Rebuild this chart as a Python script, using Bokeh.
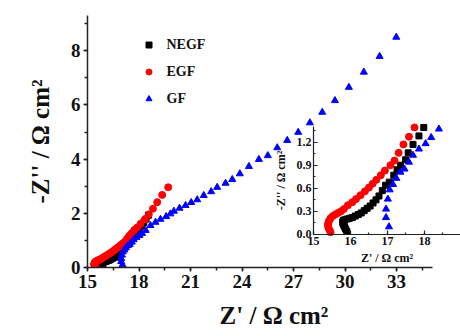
from bokeh.plotting import figure
from bokeh.models import (Range1d, LinearAxis, SingleIntervalTicker,
                          PrintfTickFormatter, Legend, LegendItem)
from bokeh.embed import file_html
from bokeh.resources import INLINE

# ---------------- data ----------------
NEGF_X = [15.90, 15.87, 15.84, 15.82, 15.80, 15.79, 15.80, 15.84, 15.90, 15.97,
          16.05, 16.13, 16.21, 16.29, 16.37, 16.45, 16.53, 16.61, 16.69, 16.77,
          16.86, 16.95, 17.05, 17.17, 17.26, 17.35, 17.49, 17.56, 17.69, 17.85,
          17.98, 18.14, 18.28, 18.41, 18.55]
NEGF_Y = [0.04, 0.07, 0.10, 0.12, 0.14, 0.16, 0.18, 0.19, 0.20, 0.21,
          0.22, 0.24, 0.26, 0.28, 0.31, 0.34, 0.37, 0.41, 0.45, 0.50,
          0.57, 0.64, 0.68, 0.77, 0.84, 0.90, 0.97, 1.06, 1.17, 1.28,
          1.39, 1.53, 1.66, 1.79, 1.93]

EGF_X = [15.46, 15.43, 15.40, 15.39, 15.40, 15.42, 15.46, 15.52, 15.59, 15.66,
         15.74, 15.82, 15.93, 16.05, 16.15, 16.27, 16.39, 16.50, 16.60, 16.70,
         16.82, 16.93, 17.08, 17.19, 17.30, 17.43, 17.58, 17.73, 17.90, 18.09,
         18.34, 18.57, 18.81, 19.06, 19.35, 19.70]
EGF_Y = [0.03, 0.06, 0.09, 0.12, 0.15, 0.18, 0.21, 0.24, 0.26, 0.28,
         0.30, 0.33, 0.38, 0.42, 0.46, 0.51, 0.56, 0.61, 0.66, 0.71,
         0.77, 0.83, 0.90, 0.96, 1.06, 1.17, 1.27, 1.39, 1.48, 1.61,
         1.77, 1.96, 2.17, 2.41, 2.68, 2.96]

GF_X = [17.04, 16.96, 16.96, 17.01, 17.06, 17.15, 17.24, 17.35, 17.46, 17.58,
        17.69, 17.85, 18.03, 18.18, 18.39, 18.67, 18.96, 19.25, 19.58, 19.83,
        20.03, 20.36, 20.71, 21.04, 21.39, 21.77, 22.20, 22.55, 23.04, 23.43,
        23.87, 24.40, 24.98, 25.50, 26.05, 26.63, 27.27, 27.95, 28.67, 29.41,
        30.22, 31.09, 32.01, 32.98]
GF_Y = [0.10, 0.22, 0.33, 0.46, 0.58, 0.65, 0.73, 0.81, 0.85, 0.94,
        1.03, 1.11, 1.18, 1.26, 1.37, 1.55, 1.67, 1.78, 1.88, 1.98,
        2.08, 2.19, 2.29, 2.40, 2.50, 2.66, 2.80, 2.96, 3.11, 3.25,
        3.46, 3.73, 3.99, 4.13, 4.42, 4.69, 4.99, 5.34, 5.73, 6.16,
        6.65, 7.21, 7.79, 8.50]

SERIES = ["NEGF", "EGF", "GF"]
X_LABEL = "Z' / Ω cm²"
Y_LABEL = "-Z'' / Ω cm²"

MAIN_X = (15, 35.1)
MAIN_Y = (0, 9.3)
INSET_X = (15, 19)
INSET_Y = (0, 1.4)

FONT = "Liberation Serif"

# ---------------- figure ----------------
p = figure(width=460, height=336, output_backend="svg", toolbar_location=None,
           x_range=Range1d(15, 36.72), y_range=Range1d(0, 9.3),
           min_border_left=87, min_border_right=0, min_border_top=15,
           min_border_bottom=69, x_axis_type=None, y_axis_type=None)
p.outline_line_color = None
p.background_fill_color = "white"
p.border_fill_color = "white"

# inset coordinate system mapped onto the whole frame
p.extra_x_ranges = {"ix": Range1d(8.892, 18.973)}
p.extra_y_ranges = {"iy": Range1d(-0.4286, 2.844)}


def style(ax, tick_size, label_size, lw):
    ax.axis_line_color = "#222222"
    ax.axis_line_width = lw
    ax.major_tick_line_color = "#222222"
    ax.minor_tick_line_color = "#222222"
    ax.major_tick_line_width = lw
    ax.minor_tick_line_width = lw
    ax.major_label_text_font = FONT
    ax.major_label_text_font_style = "bold"
    ax.major_label_text_font_size = tick_size
    ax.major_label_text_color = "#111111"
    ax.axis_label_text_font = FONT
    ax.axis_label_text_font_style = "bold"
    ax.axis_label_text_font_size = label_size
    ax.axis_label_text_color = "#111111"


# main axes
xax = LinearAxis(ticker=SingleIntervalTicker(interval=3, num_minor_ticks=2),
                 bounds=MAIN_X, axis_label=X_LABEL)
style(xax, "19px", "25px", 1.5)
xax.major_tick_out = 4
xax.major_tick_in = 0
xax.minor_tick_out = 3
xax.minor_tick_in = 0
xax.major_label_standoff = 3
xax.axis_label_standoff = 11
p.add_layout(xax, "below")

yax = LinearAxis(ticker=SingleIntervalTicker(interval=2, num_minor_ticks=2),
                 bounds=MAIN_Y, axis_label=Y_LABEL)
style(yax, "19px", "25px", 1.5)
yax.major_tick_out = 4
yax.major_tick_in = 0
yax.minor_tick_out = 3
yax.minor_tick_in = 0
yax.major_label_standoff = 3
yax.axis_label_standoff = 14
p.add_layout(yax, "left")

# inset axes
ixax = LinearAxis(x_range_name="ix", y_range_name="iy", fixed_location=0,
                  bounds=INSET_X,
                  ticker=SingleIntervalTicker(interval=1, num_minor_ticks=2),
                  axis_label=X_LABEL)
style(ixax, "12px", "12px", 1.2)
ixax.major_tick_out = 0
ixax.major_tick_in = 4
ixax.minor_tick_out = 0
ixax.minor_tick_in = 2
ixax.major_label_standoff = 3
ixax.axis_label_standoff = 2
p.add_layout(ixax, "below")

iyax = LinearAxis(x_range_name="ix", y_range_name="iy", fixed_location=15,
                  bounds=INSET_Y,
                  ticker=SingleIntervalTicker(interval=0.3, num_minor_ticks=2),
                  formatter=PrintfTickFormatter(format="%.1f"),
                  axis_label=Y_LABEL)
style(iyax, "12px", "12px", 1.2)
iyax.major_tick_out = 0
iyax.major_tick_in = 4
iyax.minor_tick_out = 0
iyax.minor_tick_in = 2
iyax.major_label_standoff = 2
iyax.axis_label_standoff = 6
p.add_layout(iyax, "left")

# ---------------- data glyphs ----------------
specs = [(NEGF_X, NEGF_Y, "square", 6, "black"),
         (EGF_X, EGF_Y, "circle", 7, "red"),
         (GF_X, GF_Y, "triangle", 7, "blue")]

main_renderers = []
for xs, ys, mk, sz, col in specs:
    r = p.scatter(xs, ys, marker=mk, size=sz, fill_color=col, line_color=col)
    main_renderers.append(r)

for xs, ys, mk, sz, col in specs:
    pts = [(x, y) for x, y in zip(xs, ys)
           if INSET_X[0] <= x <= INSET_X[1] and INSET_Y[0] <= y <= INSET_Y[1]]
    ix = [a for a, b in pts]
    iy = [b for a, b in pts]
    p.scatter(ix, iy, marker=mk, size=sz, fill_color=col, line_color=col,
              x_range_name="ix", y_range_name="iy")

legend = Legend(items=[LegendItem(label=name, renderers=[r])
                       for name, r in zip(SERIES, main_renderers)],
                location=(53.5, 160.5), orientation="vertical",
                border_line_color=None, background_fill_alpha=0,
                padding=0, margin=0, spacing=11,
                glyph_width=15, glyph_height=15, label_height=15,
                label_standoff=11, label_text_font=FONT,
                label_text_font_style="bold", label_text_font_size="14px",
                label_text_color="#111111")
p.add_layout(legend)

open("out.html", "w").write(file_html(p, INLINE))
